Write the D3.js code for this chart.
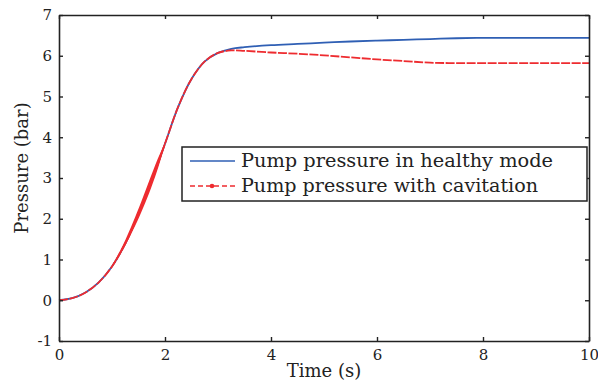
<!DOCTYPE html>
<html>
<head>
<meta charset="utf-8">
<script src="https://cdn.jsdelivr.net/npm/d3@7"></script>
<style>
  body { margin: 0; background: #fff; }
  text { font-family: "DejaVu Serif", serif; fill: #222; }
</style>
</head>
<body>
<div id="chart"></div>
<script>
// values
const timeS = [0, 0.25, 0.5, 0.75, 1.0, 1.25, 1.5, 1.75, 2.0, 2.25, 2.5, 2.75, 3.0, 3.25, 3.5,
               4, 4.5, 5, 5.5, 6, 6.5, 7, 7.5, 8, 8.5, 9, 9.5, 10];
const healthy = [0, 0.05, 0.19, 0.44, 0.83, 1.39, 2.12, 2.94, 3.84, 4.75, 5.43, 5.86, 6.07, 6.17, 6.21,
                 6.26, 6.29, 6.32, 6.35, 6.37, 6.39, 6.41, 6.43, 6.44, 6.44, 6.44, 6.44, 6.44];
const cavitation = [0, 0.05, 0.19, 0.44, 0.83, 1.39, 2.12, 2.94, 3.84, 4.75, 5.43, 5.86, 6.07, 6.13, 6.12,
                    6.08, 6.05, 6.01, 5.96, 5.91, 5.87, 5.83, 5.82, 5.82, 5.82, 5.82, 5.82, 5.82];
// thickness of the oscillating band on the cavitation curve (bar)
const bandT = [1.0, 1.2, 1.4, 1.55, 1.7, 1.85, 1.95, 2.05];
const bandW = [0.05, 0.12, 0.2, 0.26, 0.3, 0.26, 0.14, 0.04];
const xTicks = [0, 2, 4, 6, 8, 10];
const yTicks = [-1, 0, 1, 2, 3, 4, 5, 6, 7];
const seriesNames = ["Pump pressure in healthy mode", "Pump pressure with cavitation"];

const W = 598, H = 383;
const margin = {top: 15, right: 9, bottom: 42, left: 59};
const width = W - margin.left - margin.right;
const height = H - margin.top - margin.bottom;

const svg = d3.select('#chart').append('svg')
    .attr('width', W).attr('height', H);
const g = svg.append('g')
    .attr('transform', `translate(${margin.left},${margin.top})`);

const x = d3.scaleLinear().domain([0, 10]).range([0, width]);
const y = d3.scaleLinear().domain([-1, 7]).range([height, 0]);

const blue = '#2f5fb4', red = '#ee2b2f';

const healthyData = timeS.map((t, i) => ({t, v: healthy[i]}));
const cavData = timeS.map((t, i) => ({t, v: cavitation[i]}));
const cavAt = d3.scaleLinear().domain(timeS).range(cavitation);

const line = d3.line()
    .x(d => x(d.t))
    .y(d => y(d.v))
    .curve(d3.curveCatmullRom.alpha(0.5));

g.append('path')
    .datum(healthyData)
    .attr('fill', 'none')
    .attr('stroke', blue)
    .attr('stroke-width', 1.8)
    .attr('d', line);

g.append('path')
    .datum(cavData)
    .attr('fill', 'none')
    .attr('stroke', red)
    .attr('stroke-width', 1.8)
    .attr('stroke-dasharray', '9,1.5')
    .attr('d', line);

// thick oscillation band around t = 1..2
const band = d3.area()
    .x(d => x(d.t))
    .y0(d => y(cavAt(d.t) - d.w / 2))
    .y1(d => y(cavAt(d.t) + d.w / 2))
    .curve(d3.curveCatmullRom.alpha(0.5));
g.append('path')
    .datum(bandT.map((t, i) => ({t, w: bandW[i]})))
    .attr('fill', red)
    .attr('d', band);

// axes, MATLAB style with a box and inward ticks
const tickLen = 4;
const fmt = d => String(d).replace('\u2212', '-');
const axisB = g.append('g').attr('transform', `translate(0,${height})`)
    .call(d3.axisBottom(x).tickValues(xTicks).tickSizeInner(-tickLen).tickSizeOuter(0).tickPadding(8).tickFormat(fmt));
const axisT = g.append('g')
    .call(d3.axisTop(x).tickValues(xTicks).tickSizeInner(-tickLen).tickSizeOuter(0).tickFormat(''));
const axisL = g.append('g')
    .call(d3.axisLeft(y).tickValues(yTicks).tickSizeInner(-tickLen).tickSizeOuter(0).tickPadding(7).tickFormat(fmt));
const axisR = g.append('g').attr('transform', `translate(${width},0)`)
    .call(d3.axisRight(y).tickValues(yTicks).tickSizeInner(-tickLen).tickSizeOuter(0).tickFormat(''));

[axisB, axisT, axisL, axisR].forEach(a => {
  a.select('.domain').attr('stroke', '#222').attr('stroke-width', 1.6);
  a.selectAll('.tick line').attr('stroke', '#222').attr('stroke-width', 1.4);
  a.selectAll('.tick text').style('font-family', '"DejaVu Serif", serif')
    .style('font-size', '15px').attr('fill', '#222');
});

// axis labels
svg.append('text')
    .attr('x', margin.left + width / 2).attr('y', 377)
    .attr('text-anchor', 'middle')
    .style('font-size', '18px')
    .text('Time (s)');
svg.append('text')
    .attr('transform', `translate(28,${168}) rotate(-90)`)
    .attr('text-anchor', 'middle')
    .style('font-size', '18px')
    .text('Pressure (bar)');

// legend
const lg = svg.append('g');
lg.append('rect')
    .attr('x', 182).attr('y', 147).attr('width', 405).attr('height', 54)
    .attr('fill', '#fff').attr('stroke', '#222').attr('stroke-width', 1.5);
lg.append('line')
    .attr('x1', 190).attr('x2', 235).attr('y1', 161).attr('y2', 161)
    .attr('stroke', blue).attr('stroke-width', 1.4);
lg.append('line')
    .attr('x1', 190).attr('x2', 235).attr('y1', 186).attr('y2', 186)
    .attr('stroke', red).attr('stroke-width', 1.4)
    .attr('stroke-dasharray', '5,3');
lg.append('circle')
    .attr('cx', 212).attr('cy', 186).attr('r', 2.3).attr('fill', red);
lg.selectAll('text.leg')
    .data(seriesNames)
    .enter().append('text')
    .attr('class', 'leg')
    .attr('x', 241).attr('y', (d, i) => 167 + i * 25)
    .style('font-size', '18px')
    .attr('textLength', (d, i) => i === 0 ? 312 : 297)
    .attr('lengthAdjust', 'spacingAndGlyphs')
    .text(d => d);
</script>
</body>
</html>
